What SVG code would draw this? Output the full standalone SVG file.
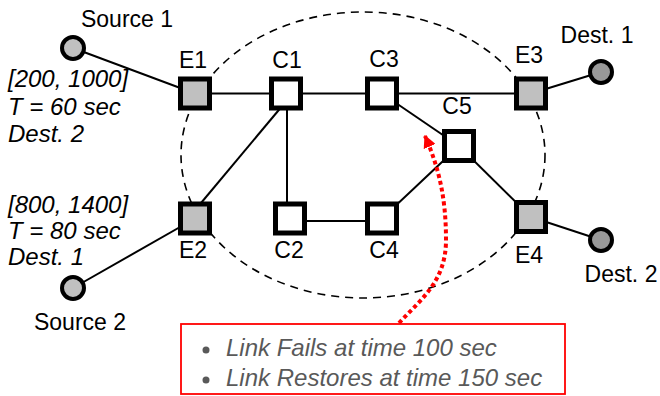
<svg xmlns="http://www.w3.org/2000/svg" width="660" height="396" viewBox="0 0 660 396">
  <defs>
    <style>
      .lbl { font-family: "Liberation Sans", Arial, sans-serif; font-size: 23px; fill: #000; }
      .mid { text-anchor: middle; }
      .info { font-family: "Liberation Sans", Arial, sans-serif; font-size: 24px; font-style: italic; fill: #000; }
      .note { font-family: "Liberation Sans", Arial, sans-serif; font-size: 24px; font-style: italic; fill: #595959; }
      .edge { stroke: #000; stroke-width: 2; fill: none; }
      .edge-node { fill: #c0c0c0; stroke: #000; stroke-width: 5; }
      .core-node { fill: #fff; stroke: #000; stroke-width: 5; }
      .src { fill: #c0c0c0; stroke: #000; stroke-width: 4; }
      .dst { fill: #999; stroke: #000; stroke-width: 4; }
    </style>
    <marker id="redHead" viewBox="0 0 10 10" refX="9" refY="5" markerWidth="3.2" markerHeight="3.2" orient="auto" markerUnits="strokeWidth">
      <path d="M0,0 L10,5 L0,10 z" fill="#ff0000"/>
    </marker>
  </defs>

  <rect width="660" height="396" fill="#fff"/>

  <!-- network domain boundary -->
  <ellipse cx="363" cy="155" rx="182" ry="143" fill="none" stroke="#000" stroke-width="1.6" stroke-dasharray="8,6"/>

  <g id="connectors">
    <line class="edge" x1="73" y1="48" x2="195" y2="93.5"/>
    <line class="edge" x1="195" y1="93.5" x2="286" y2="93.5"/>
    <line class="edge" x1="286" y1="93.5" x2="382" y2="93.5"/>
    <line class="edge" x1="382" y1="93.5" x2="531" y2="93.5"/>
    <line class="edge" x1="531" y1="93.5" x2="601" y2="72"/>
    <line class="edge" x1="287" y1="93.5" x2="287" y2="218"/>
    <line class="edge" x1="288" y1="99" x2="196" y2="209"/>
    <line class="edge" x1="290" y1="221" x2="382" y2="221"/>
    <line class="edge" x1="382" y1="93.5" x2="459" y2="146"/>
    <line class="edge" x1="459" y1="146" x2="382" y2="218.5"/>
    <line class="edge" x1="459" y1="146" x2="531" y2="217"/>
    <line class="edge" x1="531" y1="217" x2="601" y2="240"/>
    <line class="edge" x1="195" y1="218.5" x2="73" y2="288"/>
  </g>

  <g id="source1">
    <circle class="src" cx="73" cy="48" r="11"/>
    <text class="lbl mid" x="127" y="27">Source 1</text>
  </g>
  <g id="source2">
    <circle class="src" cx="73" cy="288" r="11"/>
    <text class="lbl mid" x="80" y="330">Source 2</text>
  </g>
  <g id="dest1">
    <circle class="dst" cx="601" cy="72" r="11"/>
    <text class="lbl mid" x="597" y="43">Dest. 1</text>
  </g>
  <g id="dest2">
    <circle class="dst" cx="601" cy="240" r="11"/>
    <text class="lbl mid" x="621" y="282">Dest. 2</text>
  </g>

  <g id="E1">
    <rect class="edge-node" x="180.5" y="79" width="29" height="29"/>
    <text class="lbl mid" x="193" y="68">E1</text>
  </g>
  <g id="C1">
    <rect class="core-node" x="271.5" y="79" width="29" height="29"/>
    <text class="lbl mid" x="287" y="68">C1</text>
  </g>
  <g id="C3">
    <rect class="core-node" x="367.5" y="79" width="29" height="29"/>
    <text class="lbl mid" x="384" y="67">C3</text>
  </g>
  <g id="E3">
    <rect class="edge-node" x="516.5" y="79" width="29" height="29"/>
    <text class="lbl mid" x="529" y="63">E3</text>
  </g>
  <g id="C5">
    <rect class="core-node" x="444.5" y="131.5" width="29" height="29"/>
    <text class="lbl mid" x="457" y="114">C5</text>
  </g>
  <g id="E2">
    <rect class="edge-node" x="180.5" y="204" width="29" height="29"/>
    <text class="lbl mid" x="193" y="258">E2</text>
  </g>
  <g id="C2">
    <rect class="core-node" x="275.5" y="204" width="29" height="29"/>
    <text class="lbl mid" x="289" y="258">C2</text>
  </g>
  <g id="C4">
    <rect class="core-node" x="367.5" y="204" width="29" height="29"/>
    <text class="lbl mid" x="384" y="258">C4</text>
  </g>
  <g id="E4">
    <rect class="edge-node" x="516.5" y="202.5" width="29" height="29"/>
    <text class="lbl mid" x="529" y="263">E4</text>
  </g>

  <g id="flow1">
    <text class="info" x="8" y="87">[200, 1000]</text>
    <text class="info" x="8" y="115">T = 60 sec</text>
    <text class="info" x="8" y="142">Dest. 2</text>
  </g>
  <g id="flow2">
    <text class="info" x="8" y="213">[800, 1400]</text>
    <text class="info" x="8" y="239">T = 80 sec</text>
    <text class="info" x="8" y="265">Dest. 1</text>
  </g>

  <!-- failure event callout -->
  <g id="failure-note">
    <path d="M399,323 C420,300 446,282 446,240 C446,198 439,168 425,136" fill="none" stroke="#ff0000" stroke-width="4" stroke-dasharray="4,3" marker-end="url(#redHead)"/>
    <rect x="181" y="324" width="384" height="70" fill="#fff" stroke="#ff0000" stroke-width="1.8"/>
    <circle cx="206" cy="350" r="3.5" fill="#595959"/>
    <circle cx="206" cy="380" r="3.5" fill="#595959"/>
    <text class="note" x="226" y="356">Link Fails at time 100 sec</text>
    <text class="note" x="226" y="386">Link Restores at time 150 sec</text>
  </g>
</svg>
